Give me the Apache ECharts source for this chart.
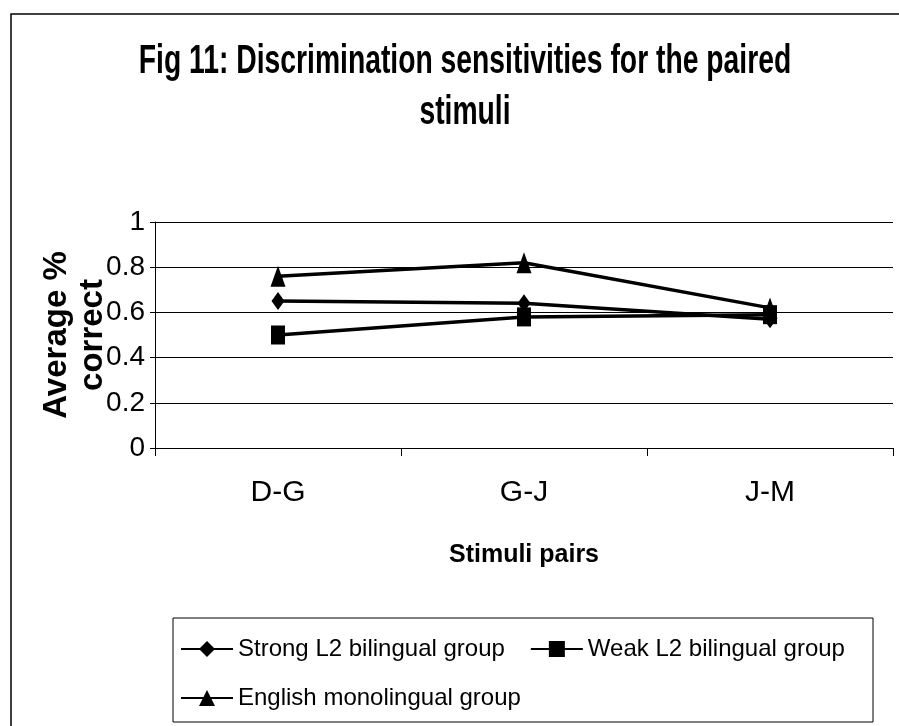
<!DOCTYPE html>
<html>
<head>
<meta charset="utf-8">
<script src="https://cdn.jsdelivr.net/npm/echarts@6/dist/echarts.min.js"></script>
<style>
  html, body { margin: 0; background: #fff; }
  #chart { width: 899px; height: 726px; }
</style>
</head>
<body>
<div id="chart"></div>
<script>
  // values
  const categories = ['D-G', 'G-J', 'J-M']
  const strongL2 = [0.65, 0.64, 0.57]
  const weakL2 = [0.50, 0.58, 0.59]
  const englishMono = [0.76, 0.82, 0.62]

  const myChart = echarts.init(document.getElementById('chart'))
  const black = '#000'
  const sans = '"Liberation Sans", Arial, sans-serif'

  const lineSeries = (name, data, symbol, symbolSize) => ({
    name,
    type: 'line',
    data,
    symbol,
    symbolSize,
    lineStyle: { color: black, width: 3.5 },
    itemStyle: { color: black },
    emphasis: { disabled: true }
  })

  const option = {
    animation: false,
    backgroundColor: '#fff',
    graphic: [
      {
        type: 'rect',
        shape: { x: 11, y: 14, width: 900, height: 720 },
        style: { fill: 'none', stroke: black, lineWidth: 1.5 }
      },
      {
        // title is squeezed sideways in the original
        type: 'text',
        x: 465,
        y: 87,
        scaleX: 0.69,
        style: {
          text: 'Fig 11: Discrimination sensitivities for the paired\nstimuli',
          font: 'bold 41px ' + sans,
          lineHeight: 51,
          fill: black,
          textAlign: 'center',
          textVerticalAlign: 'middle'
        }
      },
      {
        type: 'rect',
        shape: { x: 173, y: 618, width: 700, height: 104 },
        style: { fill: 'none', stroke: black, lineWidth: 1 }
      }
    ],
    grid: { left: 155, right: 6, top: 222, bottom: 278 },
    legend: {
      left: 180,
      top: 637,
      width: 700,
      padding: 0,
      itemWidth: 52,
      itemHeight: 20,
      itemGap: 25,
      textStyle: { fontFamily: sans, fontSize: 24, lineHeight: 20, color: black },
      data: ['Strong L2 bilingual group', 'Weak L2 bilingual group', 'English monolingual group']
    },
    xAxis: {
      type: 'category',
      data: categories,
      boundaryGap: true,
      name: 'Stimuli pairs',
      nameLocation: 'middle',
      nameGap: 95,
      nameTextStyle: { fontFamily: sans, fontWeight: 'bold', fontSize: 25, color: black },
      axisLine: { lineStyle: { color: black, width: 1 } },
      axisTick: { show: true, length: 8, lineStyle: { color: black } },
      axisLabel: { fontFamily: sans, fontSize: 30, color: black, margin: 30 }
    },
    yAxis: {
      type: 'value',
      min: 0,
      max: 1,
      interval: 0.2,
      name: 'Average %\ncorrect',
      nameLocation: 'middle',
      nameRotate: 90,
      nameGap: 44,
      nameMoveOverlap: false,
      nameTextStyle: { fontFamily: sans, fontWeight: 'bold', fontSize: 33, lineHeight: 36, color: black },
      axisLine: { show: true, lineStyle: { color: black, width: 1 } },
      axisTick: { show: true, length: 5, lineStyle: { color: black } },
      axisLabel: { fontFamily: sans, fontSize: 28, color: black, margin: 10 },
      splitLine: { show: true, lineStyle: { color: black, width: 1 } }
    },
    series: [
      lineSeries('Strong L2 bilingual group', strongL2, 'diamond', [13, 18]),
      lineSeries('Weak L2 bilingual group', weakL2, 'rect', [14, 19]),
      lineSeries('English monolingual group', englishMono, 'triangle', [15, 21])
    ]
  }

  myChart.setOption(option)
</script>
</body>
</html>
